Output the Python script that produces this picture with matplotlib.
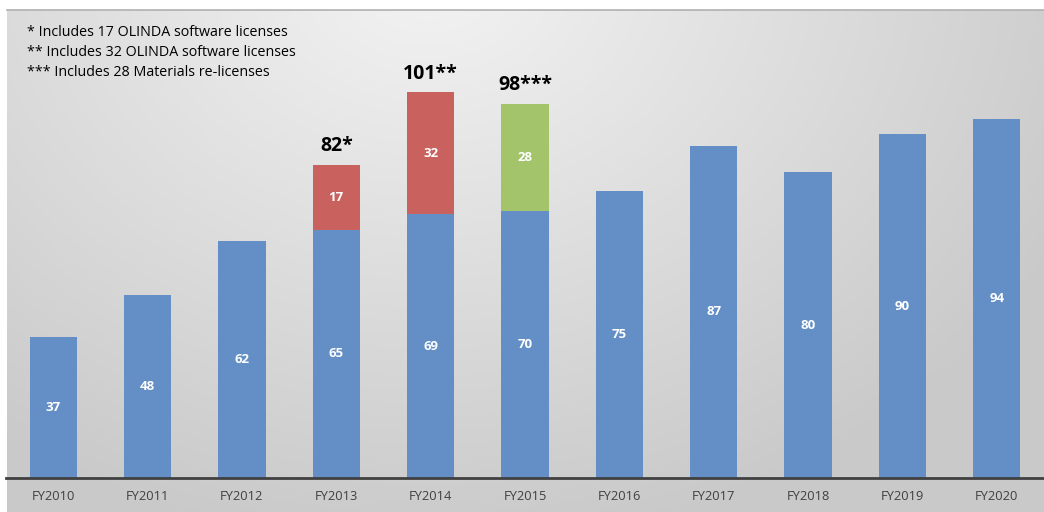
import numpy as np
import matplotlib
matplotlib.use('Agg')
import matplotlib.pyplot as plt

years = ['FY2010', 'FY2011', 'FY2012', 'FY2013', 'FY2014', 'FY2015',
         'FY2016', 'FY2017', 'FY2018', 'FY2019', 'FY2020']
base = [37, 48, 62, 65, 69, 70, 75, 87, 80, 90, 94]
extra = [0, 0, 0, 17, 32, 28, 0, 0, 0, 0, 0]
extra_colors = ['#c9625f', '#c9625f', '#c9625f', '#c9625f', '#c9625f', '#a3c46b',
                '#c9625f', '#c9625f', '#c9625f', '#c9625f', '#c9625f']
totals = {3: '82*', 4: '101**', 5: '98***'}
notes = ['* Includes 17 OLINDA software licenses',
         '** Includes 32 OLINDA software licenses',
         '*** Includes 28 Materials re-licenses']

W, H = 1044, 512
fig = plt.figure(figsize=(W / 100, H / 100), dpi=100)
fig.patch.set_facecolor('white')

# gradient background panel
bg = fig.add_axes([7 / W, 0, 1 - 7 / W, (H - 10) / H])
yy, xx = np.mgrid[0:502, 0:1037]
d = np.sqrt(((xx - 420) / 700.0) ** 2 + ((yy + 40) / 560.0) ** 2)
shade = np.clip(0.955 - 0.16 * d, 0.79, 0.955)
bg.imshow(np.dstack([shade] * 3), aspect='auto', extent=[0, 1, 0, 1])
bg.axis('off')
fig.add_artist(plt.Line2D([7 / W, 1], [(H - 10) / H] * 2, color='#b0b0b0', lw=1.2))

ax = fig.add_axes([6 / W, (H - 478) / H, 1038 / W, 468 / H])
ax.patch.set_alpha(0)
x = np.arange(len(years))
ax.bar(x, base, width=0.5, color='#638fc6', zorder=2)
ax.bar(x, extra, width=0.5, bottom=base, color=extra_colors, zorder=2)

for i, v in enumerate(base):
    ax.text(i, v / 2, str(v), ha='center', va='center', color='white',
            fontsize=9.5, fontweight='bold', family='Open Sans')
    if extra[i]:
        ax.text(i, v + extra[i] / 2, str(extra[i]), ha='center', va='center',
                color='white', fontsize=9.5, fontweight='bold', family='Open Sans')
        ax.text(i, v + extra[i] + 2.2, totals[i], ha='center', va='bottom',
                color='black', fontsize=14, fontweight='bold', family='Open Sans')

ax.set_xlim(-0.5, 10.5)
ax.set_ylim(0, 122.5)
ax.set_yticks([])
ax.set_xticks(x)
ax.set_xticklabels(years, fontsize=9.3, color='#404040', family='Open Sans')
ax.tick_params(axis='x', length=0, pad=9)
for s in ['top', 'right', 'left']:
    ax.spines[s].set_visible(False)
ax.spines['bottom'].set_color('#404040')
ax.spines['bottom'].set_linewidth(2)

for k, t in enumerate(notes):
    fig.text(27 / W, 1 - (32 + 20 * k) / H, t, ha='left', va='center',
             fontsize=10.3, color='black', family='Open Sans')

fig.savefig('out.png', dpi=100)
